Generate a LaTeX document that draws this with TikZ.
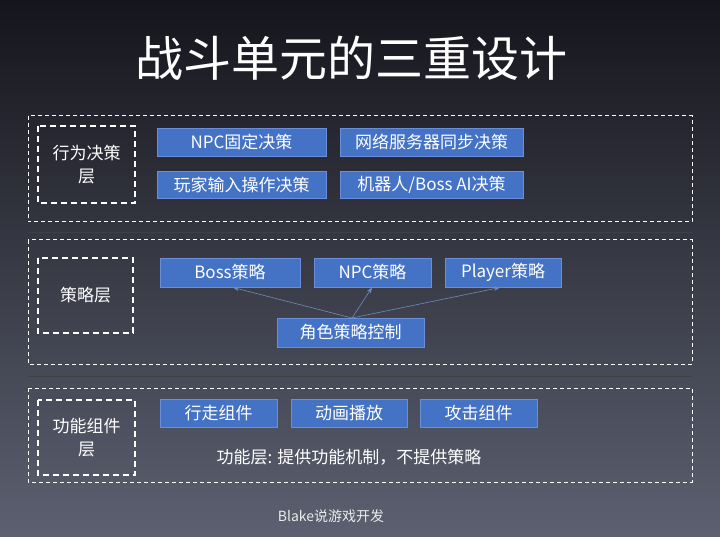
\documentclass[tikz,border=0pt]{standalone}
\usepackage{fontspec}
\setmainfont{Noto Sans CJK SC}
\usetikzlibrary{arrows.meta}
\definecolor{bgtop}{HTML}{15151C}
\definecolor{bgbot}{HTML}{5C6070}
\definecolor{boxblue}{HTML}{4472C4}
\definecolor{boxedge}{HTML}{6A8FD8}
\tikzset{
  layerbox/.style={draw=white, dash pattern=on 4pt off 3pt, line width=1pt},
  tagbox/.style={draw=white, dash pattern=on 6pt off 4pt, line width=2.2pt},
  bluebox/.style={fill=boxblue, draw=boxedge, line width=0.6pt, text=white, font=\fontsize{17}{19}\selectfont, inner sep=0pt},
  linkarrow/.style={draw=boxedge!70!gray, line width=0.6pt, -{Stealth[length=6pt]}}
}
\begin{document}
\begin{tikzpicture}[x=1pt,y=-1pt]

% Background
\shade[top color=bgtop, bottom color=bgbot] (0,0) rectangle (720,537);
\useasboundingbox (0,0) rectangle (720,537);
\node[text=white, font=\fontsize{48}{54}\selectfont] (title) at (351,58) {战斗单元的三重设计};

% Separators
\draw[gray!40!bgtop, line width=0.8pt] (28,232) -- (692,232);
\draw[gray!40!bgtop, line width=0.8pt] (28,376) -- (692,376);

% Decision layer
\draw[layerbox] (28,116) rectangle (692,222);
\draw[tagbox] (38,126) rectangle (135,203);
\node[text=white, align=center, font=\fontsize{17}{23}\selectfont] (tagA) at (86.5,164.5) {行为决策\\层};
\node[bluebox, minimum width=169pt, minimum height=28pt] (npcfix) at (241.5,142) {NPC固定决策};
\node[bluebox, minimum width=183pt, minimum height=28pt] (netsync) at (431.5,142) {网络服务器同步决策};
\node[bluebox, minimum width=169pt, minimum height=27pt] (input) at (241.5,184.5) {玩家输入操作决策};
\node[bluebox, minimum width=183pt, minimum height=27pt] (robot) at (431.5,184.5) {机器人/Boss AI决策};

% Strategy layer
\draw[layerbox] (28,240) rectangle (692,364);
\draw[tagbox] (38,258) rectangle (133,333);
\node[text=white, font=\fontsize{17}{21}\selectfont] (tagB) at (85.5,295.5) {策略层};
\node[bluebox, minimum width=140pt, minimum height=29pt] (boss) at (230,272.5) {Boss策略};
\node[bluebox, minimum width=117pt, minimum height=29pt] (npc) at (372.5,272.5) {NPC策略};
\node[bluebox, minimum width=116pt, minimum height=29pt] (player) at (503,272.5) {Player策略};
\node[bluebox, minimum width=147pt, minimum height=29pt] (ctrl) at (350.5,332.5) {角色策略控制};
\coordinate (src) at (352,318);
\draw[linkarrow] (src) -- (233,287.5);
\draw[linkarrow] (src) -- (372,287.5);
\draw[linkarrow] (src) -- (500,287.5);

% Function layer
\draw[layerbox] (28,388) rectangle (692,482);
\draw[tagbox] (38,400) rectangle (135,475);
\node[text=white, align=center, font=\fontsize{17}{23}\selectfont] (tagC) at (86.5,437.5) {功能组件\\层};
\node[bluebox, minimum width=117pt, minimum height=28pt] (walk) at (218.5,413) {行走组件};
\node[bluebox, minimum width=116pt, minimum height=28pt] (anim) at (349,413) {动画播放};
\node[bluebox, minimum width=117pt, minimum height=28pt] (attack) at (478.5,413) {攻击组件};
\node[text=white, font=\fontsize{17}{19}\selectfont] (note) at (349,457) {功能层: 提供功能机制，不提供策略};

% Footer
\node[text=white!85!gray, font=\fontsize{14}{16}\selectfont] (footer) at (331,516) {Blake说游戏开发};

\end{tikzpicture}
\end{document}
